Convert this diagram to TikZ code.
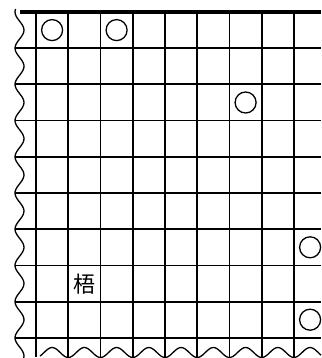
\documentclass[tikz,border=0pt]{standalone}
\usepackage{fontspec}
\newfontfamily\cjk{Noto Sans CJK JP}
\begin{document}
\begin{tikzpicture}[x=1pt, y=-1pt,
    grid/.style={line width=1.8pt},
    edge/.style={line width=3.2pt},
    wave/.style={line width=1.3pt},
    stone/.style={draw, circle, line width=1.3pt, minimum size=21pt, inner sep=0pt}]

\useasboundingbox (0,0) rectangle (321,358);

    % garis papan
    \foreach \j in {1,...,9}
        \draw[grid] (15,{12+36.2*\j}) -- (321,{12+36.2*\j});
    \foreach \i in {0,...,8}
        \draw[grid] ({36+32.25*\i},12) -- ({36+32.25*\i},357);
    \draw[edge] (20,12) -- (321,12);

    % tepi bergelombang
    \draw[wave] plot[domain=9:358, samples=150, smooth, variable=\t]
        ({19.5-4.5*cos(9.9448*(\t-12))}, \t);
    \draw[wave] plot[domain=40:321, samples=150, smooth, variable=\t]
        (\t, {352.5+5*cos(11.1628*(\t-36))});

    % batu
    \node[stone] (a) at (52.1,30.1) {};
    \node[stone] (b) at (116.6,30.1) {};
    \node[stone] (c) at (245.6,102.5) {};
    \node[stone] (d) at (310.1,247.3) {};
    \node[stone] (e) at (310.1,319.7) {};
    \node[font=\cjk\fontsize{22}{22}\selectfont] (w) at (84.4,284) {梧};

\end{tikzpicture}
\end{document}
